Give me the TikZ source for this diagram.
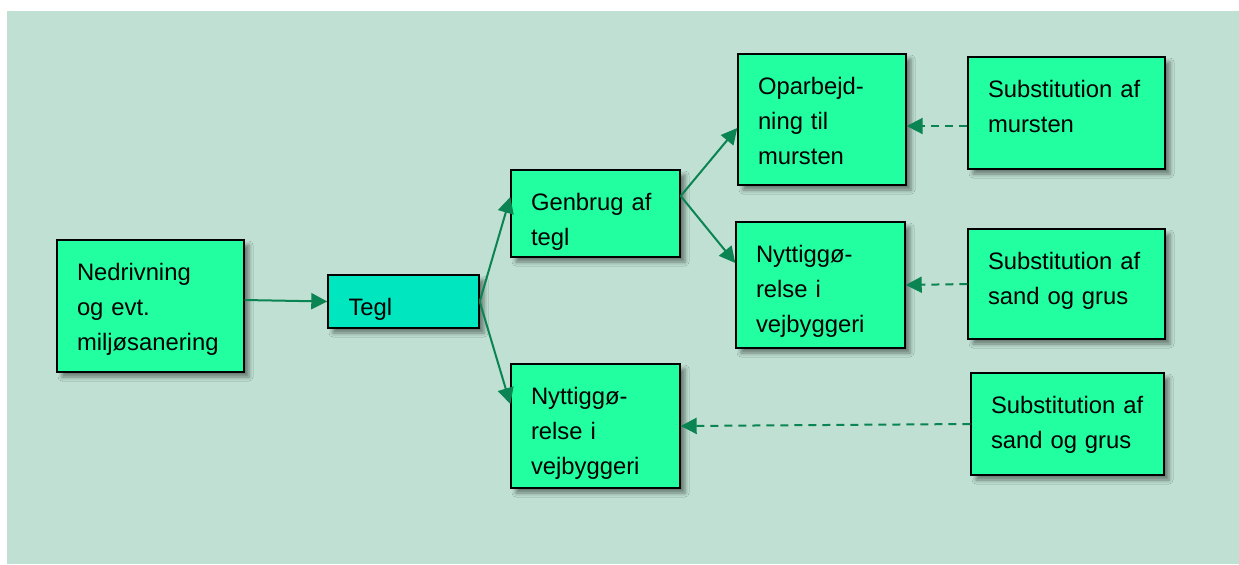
\documentclass[tikz,border=0pt]{standalone}
\usepackage{fontspec}
\setmainfont{Liberation Sans}
\usetikzlibrary{arrows.meta,shadows.blur}
\definecolor{bgc}{RGB}{191,224,210}
\definecolor{boxc}{RGB}{34,255,160}
\definecolor{teglc}{RGB}{0,230,190}
\definecolor{arrc}{RGB}{10,132,82}
\tikzset{
  box/.style={draw=black, line width=0.7pt, fill=boxc, align=left,
    inner xsep=0pt, inner ysep=0pt, text height=20pt,
    font=\fontsize{11.9}{17.5}\selectfont,
    blur shadow={shadow xshift=2.5pt, shadow yshift=-2.5pt, shadow blur radius=2pt, shadow opacity=45}},
  conn/.style={draw=arrc, line width=1pt, -{Triangle[length=8pt,width=8pt]}},
  dconn/.style={conn, dash pattern=on 4pt off 3pt}
}
\begin{document}
\begin{tikzpicture}[x=0.5pt,y=-0.5pt]
\useasboundingbox (0,0) rectangle (1239,564);
\fill[bgc] (7,11) rectangle (1239,564);

\node[box, minimum width=93.5pt, minimum height=66pt, text depth=46pt, text width=73.5pt] (ned) at (150.5,306) {Nedrivning\\og evt.\\miljøsanering};
\node[box, fill=teglc, minimum width=75.5pt, minimum height=26.5pt, text depth=6.5pt, text width=55pt] (tegl) at (403.5,301.5) {Tegl};
\node[box, minimum width=84.5pt, minimum height=43.5pt, text depth=23.5pt, text width=64.5pt] (gen) at (595.5,213.5) {Genbrug af\\tegl};
\node[box, minimum width=84.5pt, minimum height=62pt, text depth=42pt, text width=64.5pt] (nyl) at (595.5,426) {Nyttiggø-\\relse i\\vejbyggeri};
\node[box, minimum width=84pt, minimum height=65.5pt, text depth=45.5pt, text width=64pt] (opar) at (822,119.5) {Oparbejd-\\ning til\\mursten};
\node[box, minimum width=84.5pt, minimum height=63pt, text depth=43pt, text width=64.5pt] (nyu) at (820.5,285) {Nyttiggø-\\relse i\\vejbyggeri};
\node[box, minimum width=98.5pt, minimum height=56pt, text depth=36pt, text width=78.5pt] (sub1) at (1066.5,113) {Substitution af\\mursten};
\node[box, minimum width=98.5pt, minimum height=55pt, text depth=35pt, text width=78.5pt] (sub2) at (1066.5,284) {Substitution af\\sand og grus};
\node[box, minimum width=96.5pt, minimum height=51pt, text depth=31pt, text width=76.5pt] (sub3) at (1067.5,424) {Substitution af\\sand og grus};

\draw[conn] ([yshift=3pt]ned.east) -- (tegl.west);
\draw[conn] (tegl.east) -- ([yshift=8.25pt]gen.west);
\draw[conn] (tegl.east) -- ([yshift=11pt]nyl.west);
\draw[conn] ([yshift=8.75pt]gen.east) -- ([yshift=-4.25pt]opar.west);
\draw[conn] ([yshift=8.75pt]gen.east) -- ([yshift=11pt]nyu.west);
\draw[dconn] ([yshift=-6.5pt]sub1.west) -- ([yshift=-3.25pt]opar.east);
\draw[dconn] (sub2.west) -- (nyu.east);
\draw[dconn] (sub3.west) -- (nyl.east);
\end{tikzpicture}
\end{document}
